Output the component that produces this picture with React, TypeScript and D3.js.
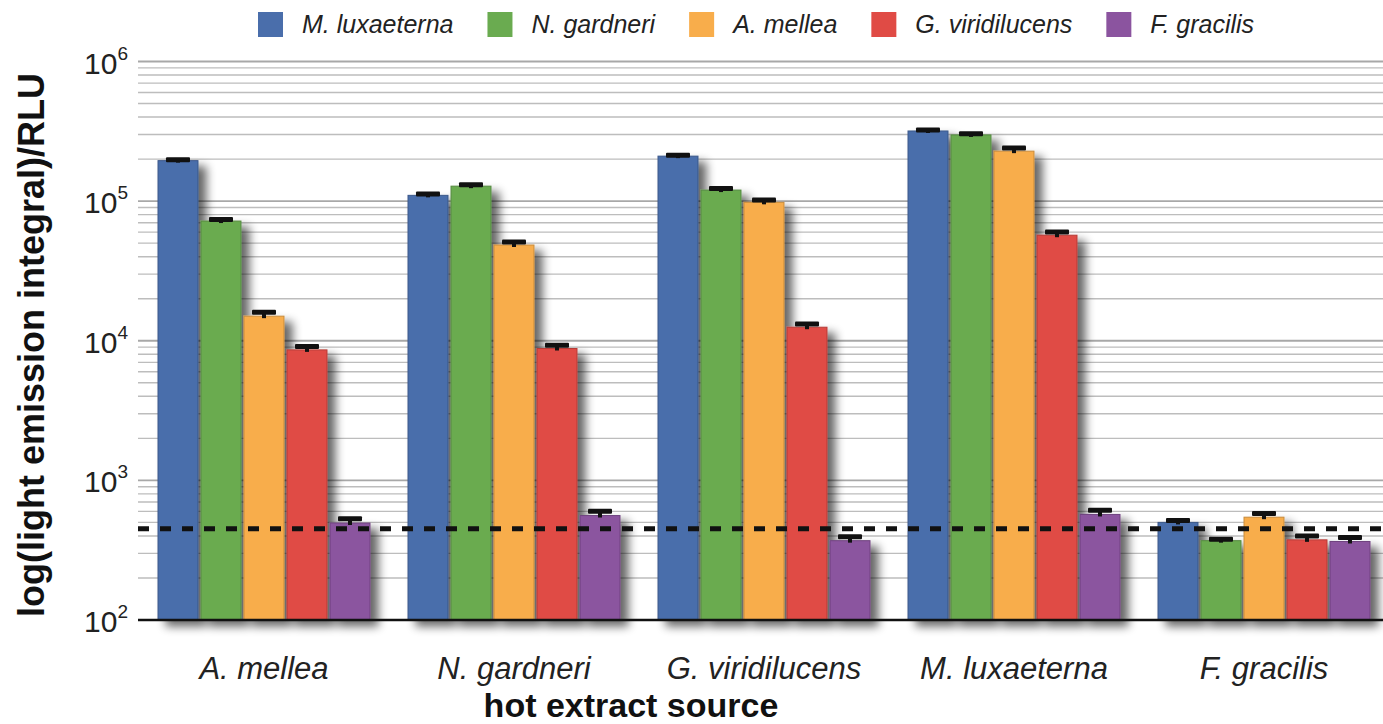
import React from "react";
import * as d3 from "d3";

const groups = ["A. mellea", "N. gardneri", "G. viridilucens", "M. luxaeterna", "F. gracilis"];
const seriesNames = ["M. luxaeterna", "N. gardneri", "A. mellea", "G. viridilucens", "F. gracilis"];
const seriesColors = ["#4a6eab", "#6aab50", "#f8ad4b", "#e04b45", "#8b549f"];

// values per series, across the 5 hot-extract groups
const mLuxaeterna = [195000, 110000, 210000, 318000, 500];
const nGardneri = [72000, 128000, 120000, 298000, 370];
const aMellea = [15000, 48500, 98000, 228000, 545];
const gViridilucens = [8600, 8800, 12500, 57000, 375];
const fGracilis = [495, 560, 370, 570, 365];

const errMLux = [3000, 2500, 3000, 5000, 15];
const errNGar = [2000, 3000, 3000, 6000, 8];
const errAMel = [1000, 2500, 4000, 12000, 35];
const errGVir = [500, 500, 700, 3000, 25];
const errFGra = [35, 40, 25, 40, 25];

const seriesValues = [mLuxaeterna, nGardneri, aMellea, gViridilucens, fGracilis];
const seriesErrors = [errMLux, errNGar, errAMel, errGVir, errFGra];

const yTickExponents = [2, 3, 4, 5, 6];
const threshold = 450;

const W = 1383;
const H = 724;
const FONT = "'Liberation Sans', Arial, Helvetica, sans-serif";

function measure(text: string, font: string): number {
  const c = document.createElement("canvas");
  const ctx = c.getContext("2d");
  if (!ctx) return text.length * 12;
  ctx.font = font;
  return ctx.measureText(text).width;
}

export default function App() {
  const y = d3.scaleLog().domain([100, 1e6]).range([620, 61.5]);
  const x0 = d3.scaleBand<string>().domain(groups).range([139, 1389]).paddingInner(0.152).paddingOuter(0.076);
  const x1 = d3.scaleBand<string>().domain(seriesNames).range([0, x0.bandwidth()]).paddingInner(0.07).paddingOuter(0);

  const gridValues: number[] = [];
  for (let e = 2; e < 6; e++) {
    for (let m = 1; m < 10; m++) gridValues.push(m * Math.pow(10, e));
  }
  gridValues.push(1e6);

  // legend layout
  const legendFont = `italic 25px ${FONT}`;
  const legendItems: { name: string; color: string; x: number }[] = [];
  let lx = 258;
  seriesNames.forEach((n, i) => {
    legendItems.push({ name: n, color: seriesColors[i], x: lx });
    lx += 44 + measure(n, legendFont) + 34;
  });

  const xLeft = 138;
  const xRight = W;

  return (
    <svg width={W} height={H} style={{ position: "absolute", left: 0, top: 0, background: "#fff" }} fontFamily={FONT}>
      <defs>
        <filter id="shadow" x="-20%" y="-20%" width="160%" height="160%">
          <feGaussianBlur in="SourceAlpha" stdDeviation="5" />
          <feOffset dx="8" dy="6" result="off" />
          <feComponentTransfer>
            <feFuncA type="linear" slope="0.6" />
          </feComponentTransfer>
          <feMerge>
            <feMergeNode />
            <feMergeNode in="SourceGraphic" />
          </feMerge>
        </filter>
      </defs>

      {/* gridlines */}
      {gridValues.map((v, i) => {
        const major = Math.abs(Math.log10(v) - Math.round(Math.log10(v))) < 1e-9;
        return (
          <line key={i} x1={xLeft} x2={xRight} y1={y(v)} y2={y(v)}
            stroke={major ? "#a8a8a8" : "#bdbdbd"} strokeWidth={major ? 1.8 : 1.4} />
        );
      })}

      {/* bars */}
      {groups.map((g, gi) => (
        <g key={g} transform={`translate(${x0(g)},0)`} filter="url(#shadow)">
          {seriesNames.map((s, si) => {
            const v = seriesValues[si][gi];
            const bx = x1(s) as number;
            return (
              <rect key={s} x={bx} y={y(v)} width={x1.bandwidth()} height={y(100) - y(v)}
                fill={seriesColors[si]} stroke={d3.color(seriesColors[si])!.darker(0.6).toString()} strokeWidth={1} />
            );
          })}
        </g>
      ))}

      {/* error bars */}
      {groups.map((g, gi) => (
        <g key={"e" + g} transform={`translate(${x0(g)},0)`}>
          {seriesNames.map((s, si) => {
            const v = seriesValues[si][gi];
            const e = seriesErrors[si][gi];
            const cx = (x1(s) as number) + x1.bandwidth() / 2;
            const top = y(v + e);
            return (
              <g key={s}>
                <line x1={cx} x2={cx} y1={y(v) + 2} y2={top} stroke="#111" strokeWidth={4} />
                <rect x={cx - 12} y={top - 2.5} width={24} height={5} fill="#111" rx={1} />
              </g>
            );
          })}
        </g>
      ))}

      {/* threshold dashed line */}
      <line x1={xLeft} x2={xRight} y1={y(threshold)} y2={y(threshold)}
        stroke="#111" strokeWidth={5} strokeDasharray="11 11" />

      {/* baseline */}
      <line x1={xLeft} x2={xRight} y1={y(100)} y2={y(100)} stroke="#111" strokeWidth={2.5} />

      {/* y tick labels */}
      {yTickExponents.map((e) => (
        <text key={e} x={128} y={y(Math.pow(10, e)) + 12} textAnchor="end" fontSize={30} fill="#222">
          <tspan>10</tspan>
          <tspan fontSize={19} dy={-14}>{e}</tspan>
        </text>
      ))}

      {/* y title */}
      <text transform="translate(44,345) rotate(-90)" textAnchor="middle" fontSize={36} fontWeight="bold" fill="#111">
        log(light emission integral)/RLU
      </text>

      {/* x tick labels */}
      {groups.map((g) => (
        <text key={"l" + g} x={(x0(g) as number) + x0.bandwidth() / 2} y={679} textAnchor="middle"
          fontSize={31} fontStyle="italic" fill="#222">{g}</text>
      ))}

      {/* x title */}
      <text x={631} y={717} textAnchor="middle" fontSize={34} fontWeight="bold" fill="#111">hot extract source</text>

      {/* legend */}
      {legendItems.map((it) => (
        <g key={"lg" + it.name}>
          <rect x={it.x} y={12} width={25} height={25} fill={it.color} />
          <text x={it.x + 44} y={33} fontSize={25} fontStyle="italic" fill="#222">{it.name}</text>
        </g>
      ))}
    </svg>
  );
}
